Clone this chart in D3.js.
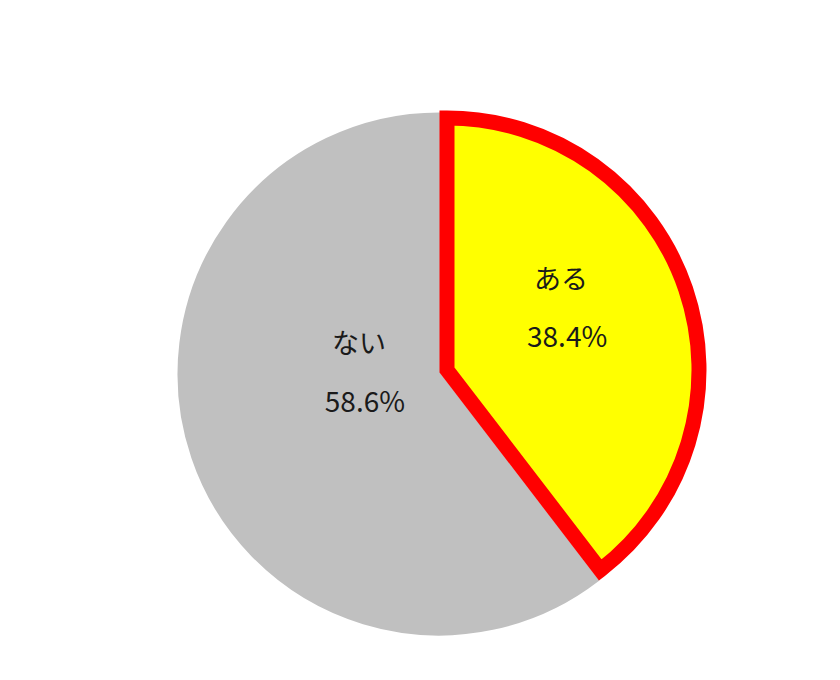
<!DOCTYPE html>
<html>
<head>
<meta charset="utf-8">
<script src="https://cdn.jsdelivr.net/npm/d3@7"></script>
<style>
  html, body { margin: 0; padding: 0; background: #fff; }
  svg { display: block; }
  text { font-family: "Noto Sans CJK JP", "Noto Sans", sans-serif; fill: #1a1a1a; }
</style>
</head>
<body>
<svg id="chart" width="840" height="680"></svg>
<script>
// ---- data ----
const categories = ["ある", "ない"];
const values = [38.4, 58.6];
const valueLabels = ["38.4%", "58.6%"];
const colors = ["#FFFF00", "#C0C0C0"];
const highlighted = [true, false];

// ---- layout / style ----
const W = 840, H = 680;
const cx = 439, cy = 374;
const rBase = 260, rHigh = 252;
const highShift = [8, -4];
const labelNudge = [[-6, -22], [46, -45]];
const lineGap = 29;

const svg = d3.select("#chart");

const pie = d3.pie().sort(null).value(d => d.value).startAngle(0).endAngle(2 * Math.PI);
const data = categories.map((c, i) => ({ name: c, value: values[i], label: valueLabels[i], color: colors[i], hl: highlighted[i] }));
const arcs = pie(data);

const arcBase = d3.arc().innerRadius(0).outerRadius(rBase);
const arcHigh = d3.arc().innerRadius(0).outerRadius(rHigh);

const g = svg.append("g").attr("transform", `translate(${cx},${cy})`);

// non-highlighted slices
g.selectAll("path.base")
  .data(arcs.filter(d => !d.data.hl))
  .join("path")
  .attr("class", "base")
  .attr("d", arcBase)
  .attr("fill", d => d.data.color)
  .attr("stroke", d => d.data.color)
  .attr("stroke-width", 3);

// highlighted slice
const gh = g.append("g").attr("transform", `translate(${highShift[0]},${highShift[1]})`);
gh.selectAll("path.hl")
  .data(arcs.filter(d => d.data.hl))
  .join("path")
  .attr("class", "hl")
  .attr("d", arcHigh)
  .attr("fill", d => d.data.color)
  .attr("stroke", "#FF0000")
  .attr("stroke-width", 15)
  .attr("stroke-linejoin", "miter")
  .attr("stroke-miterlimit", 10);

// labels
const labelArc = d3.arc().innerRadius(0).outerRadius(rBase);
arcs.forEach((a, i) => {
  const [lx, ly] = labelArc.centroid(a);
  const sx = a.data.hl ? highShift[0] : 0;
  const sy = a.data.hl ? highShift[1] : 0;
  const x = lx + sx + labelNudge[i][0];
  const y = ly + sy + labelNudge[i][1];
  const t = g.append("g").attr("transform", `translate(${x},${y})`);
  t.append("text")
    .attr("text-anchor", "middle")
    .attr("dominant-baseline", "central")
    .attr("x", -3)
    .attr("y", -lineGap)
    .attr("font-size", 27)
    .text(a.data.name);
  t.append("text")
    .attr("text-anchor", "middle")
    .attr("dominant-baseline", "central")
    .attr("x", 3)
    .attr("y", lineGap)
    .attr("font-size", 28)
    .text(a.data.label);
});
</script>
</body>
</html>
